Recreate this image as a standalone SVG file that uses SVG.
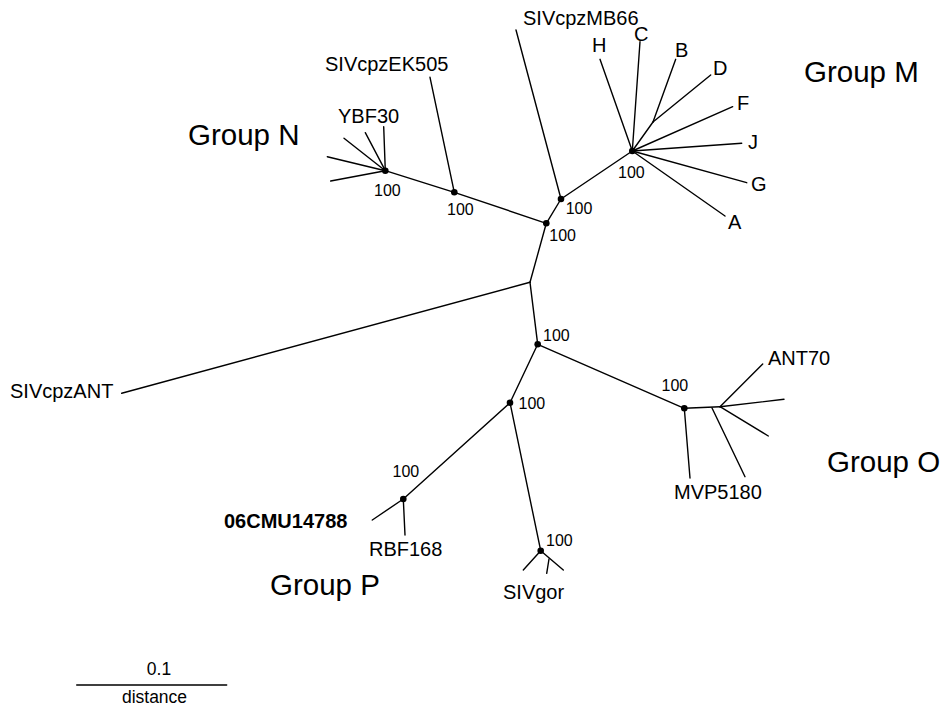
<svg xmlns="http://www.w3.org/2000/svg" width="943" height="709" viewBox="0 0 943 709">
<style>
line,polyline{stroke:#000;stroke-width:1.4;fill:none;stroke-linecap:round}
.d{fill:#000}
text{font-family:"Liberation Sans",Arial,sans-serif;fill:#000}
.lb{font-size:20px}
.bs{font-size:16px}
.gp{font-size:29.5px}
.sc{font-size:17.5px}
.bold{font-weight:bold}
</style>
<rect width="943" height="709" fill="#fff"/>
<g id="connectors">
<line x1="385.3" y1="170.7" x2="454.3" y2="192.3"/>
<line x1="454.3" y1="192.3" x2="546.3" y2="223.3"/>
<line x1="546.3" y1="223.3" x2="561" y2="199"/>
<line x1="561" y1="199" x2="632.3" y2="151"/>
<line x1="546.3" y1="223.3" x2="530" y2="282.3"/>
<line x1="530" y1="282.3" x2="121.7" y2="393.3"/>
<line x1="530" y1="282.3" x2="537.7" y2="344.3"/>
<line x1="537.7" y1="344.3" x2="684.3" y2="408.3"/>
<line x1="537.7" y1="344.3" x2="510" y2="402.7"/>
<line x1="510" y1="402.7" x2="403.3" y2="499"/>
<line x1="510" y1="402.7" x2="540.7" y2="550.7"/>
<line x1="454.3" y1="192.3" x2="430" y2="77.3"/>
<line x1="561" y1="199" x2="516" y2="30"/>
</g>
<g id="groupN">
<line x1="385.3" y1="170.7" x2="383.7" y2="126.7"/>
<line x1="385.3" y1="170.7" x2="365.3" y2="132.7"/>
<line x1="385.3" y1="170.7" x2="344" y2="138.3"/>
<line x1="385.3" y1="170.7" x2="327.3" y2="156.7"/>
<line x1="385.3" y1="170.7" x2="330.7" y2="181"/>
<circle class="d" cx="385.3" cy="170.7" r="3.3"/>
<text class="bs" x="374" y="196">100</text>
<text class="lb" x="338" y="123">YBF30</text>
<text class="gp" x="188" y="145">Group N</text>
</g>
<g id="EK505">
<circle class="d" cx="454.3" cy="192.3" r="3.3"/>
<text class="bs" x="447" y="215">100</text>
<text class="lb" x="325" y="71">SIVcpzEK505</text>
</g>
<g id="root">
<circle class="d" cx="546.3" cy="223.3" r="3.3"/>
<text class="bs" x="549.3" y="241">100</text>
</g>
<g id="MB66">
<circle class="d" cx="561" cy="199" r="3.3"/>
<text class="bs" x="565.7" y="213.5">100</text>
<text class="lb" x="523" y="25">SIVcpzMB66</text>
</g>
<g id="groupM">
<line x1="632.3" y1="151" x2="600" y2="59.3"/>
<line x1="632.3" y1="151" x2="640" y2="41.7"/>
<line x1="632.3" y1="151" x2="653" y2="122"/>
<line x1="653" y1="122" x2="675.7" y2="59.3"/>
<line x1="653" y1="122" x2="710.7" y2="75"/>
<line x1="632.3" y1="151" x2="732.7" y2="106.7"/>
<line x1="632.3" y1="151" x2="741.7" y2="143.3"/>
<line x1="632.3" y1="151" x2="746.7" y2="182.7"/>
<line x1="632.3" y1="151" x2="725" y2="216"/>
<circle class="d" cx="632.3" cy="151" r="3.3"/>
<text class="bs" x="618" y="178">100</text>
<text class="lb" x="592" y="52">H</text>
<text class="lb" x="634" y="41">C</text>
<text class="lb" x="675" y="57">B</text>
<text class="lb" x="713" y="75">D</text>
<text class="lb" x="737" y="110">F</text>
<text class="lb" x="748" y="149">J</text>
<text class="lb" x="751" y="191">G</text>
<text class="lb" x="728" y="229">A</text>
<text class="gp" x="804" y="82">Group M</text>
</g>
<g id="ANT">
<text class="lb" x="10" y="398">SIVcpzANT</text>
</g>
<g id="OP">
<circle class="d" cx="537.7" cy="344.3" r="3.3"/>
<text class="bs" x="543" y="340.5">100</text>
</g>
<g id="groupO">
<line x1="684.3" y1="408.3" x2="720" y2="406.7"/>
<line x1="712" y1="408" x2="745" y2="476.7"/>
<line x1="720" y1="406.7" x2="762.7" y2="364"/>
<line x1="720" y1="406.7" x2="784" y2="399.3"/>
<line x1="720" y1="406.7" x2="768.3" y2="436"/>
<line x1="684.3" y1="408.3" x2="690" y2="478"/>
<circle class="d" cx="684.3" cy="408.3" r="3.3"/>
<text class="bs" x="661.5" y="391">100</text>
<text class="lb" x="768" y="365">ANT70</text>
<text class="lb" x="674" y="499">MVP5180</text>
<text class="gp" x="827" y="472">Group O</text>
</g>
<g id="Pgor">
<circle class="d" cx="510" cy="402.7" r="3.3"/>
<text class="bs" x="518.5" y="408.5">100</text>
</g>
<g id="groupP">
<line x1="403.3" y1="499" x2="372.3" y2="520"/>
<line x1="403.3" y1="499" x2="405" y2="535"/>
<circle class="d" cx="403.3" cy="499" r="3.3"/>
<text class="bs" x="392.5" y="476.5">100</text>
<text class="lb bold" x="224" y="528">06CMU14788</text>
<text class="lb" x="369" y="556">RBF168</text>
<text class="gp" x="270" y="595">Group P</text>
</g>
<g id="SIVgor">
<line x1="540.7" y1="550.7" x2="523.3" y2="570"/>
<line x1="540.7" y1="550.7" x2="563.3" y2="570"/>
<line x1="549" y1="559" x2="546.7" y2="573.3"/>
<circle class="d" cx="540.7" cy="550.7" r="3.3"/>
<text class="bs" x="546" y="545.5">100</text>
<text class="lb" x="503" y="599">SIVgor</text>
</g>
<g id="scale">
<line x1="76.7" y1="685" x2="226.7" y2="685" stroke-linecap="butt"/>
<text class="sc" x="159" y="675" text-anchor="middle">0.1</text>
<text class="sc" x="154.5" y="703" text-anchor="middle">distance</text>
</g>
</svg>
